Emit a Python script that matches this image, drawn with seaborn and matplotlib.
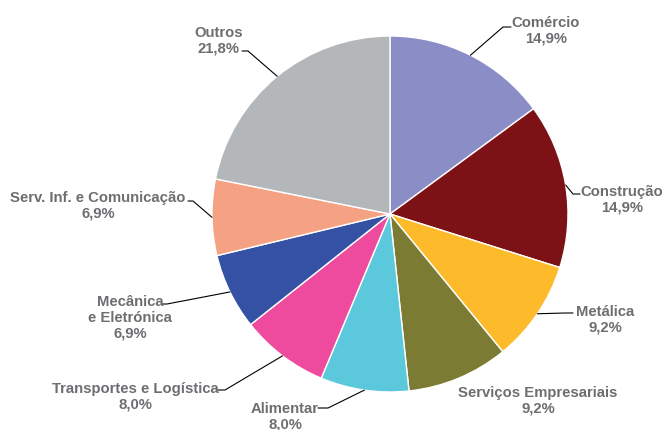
import numpy as np
import matplotlib
matplotlib.use("Agg")
import matplotlib.pyplot as plt
import seaborn as sns

sectors = ["Comércio", "Construção", "Metálica", "Serviços Empresariais", "Alimentar",
           "Transportes e Logística", "Mecânica\ne Eletrónica", "Serv. Inf. e Comunicação", "Outros"]
shares = [14.9, 14.9, 9.2, 9.2, 8.0, 8.0, 6.9, 6.9, 21.8]
colors = ["#8B8EC6", "#7C1215", "#FDBA2B", "#7B7B33", "#5BC8DC",
          "#EE4B9E", "#3451A3", "#F4A283", "#B4B7BA"]

# layout in pixel coords (y from top): label centre, elbow, end of horizontal bit
label_pos = [(546, 31), (622, 200), (605, 320), (538, 401), (285, 417),
             (135, 397), (130, 318), (98, 206), (219, 41)]
elbows = [((503, 28), (511, 28)), ((573, 195), (580, 195)), ((565, 314), (573, 314)), None,
          ((328, 409), (318, 409)), ((225, 391), (218, 391)), ((167, 305), (162, 305)),
          ((193, 202), (188, 202)), ((248, 52), (242, 52))]

W, H = 666, 431
cx, cy, r = 390, 215, 178

sns.set_style("white")
plt.rcParams["font.family"] = ["Liberation Sans", "DejaVu Sans"]

fig = plt.figure(figsize=(W / 100, H / 100), dpi=100)
ax = fig.add_axes([0, 0, 1, 1])

wedges, _ = ax.pie(shares, colors=colors, startangle=90, counterclock=False,
                   center=(cx, H - cy), radius=r,
                   wedgeprops=dict(edgecolor="white", linewidth=1))

for w, lab, val, (lx, ly), elb in zip(wedges, sectors, shares, label_pos, elbows):
    pct = f"{val:.1f}%".replace(".", ",")
    ax.text(lx, H - ly, f"{lab}\n{pct}", ha="center", va="center",
            fontsize=10.7, fontweight="bold", color="#6D6E71", linespacing=1.15)
    if elb is None:
        continue
    mid = np.deg2rad((w.theta1 + w.theta2) / 2)
    x0, y0 = cx + r * np.cos(mid), H - cy + r * np.sin(mid)
    (ex, ey), (hx, hy) = elb
    ax.plot([x0, ex, hx], [y0, H - ey, H - hy], color="black", lw=0.8)

ax.set_xlim(0, W)
ax.set_ylim(0, H)
ax.set_aspect("equal")
ax.axis("off")
fig.savefig("out.png", dpi=100, facecolor="white")
